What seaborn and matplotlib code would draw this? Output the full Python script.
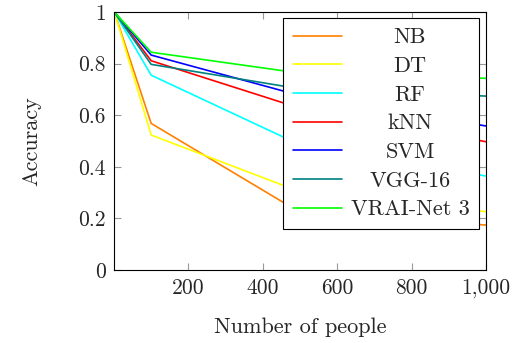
import numpy as np
import pandas as pd
import matplotlib
matplotlib.use("Agg")
import matplotlib.pyplot as plt
import seaborn as sns

# data
people = [1, 100, 500, 1000]
nb = [1.0, 0.568, 0.223, 0.174]
dt = [1.0, 0.523, 0.303, 0.226]
rf = [1.0, 0.755, 0.485, 0.364]
knn = [1.0, 0.811, 0.627, 0.497]
svm = [1.0, 0.833, 0.676, 0.558]
vgg = [1.0, 0.797, 0.702, 0.674]
vrai = [1.0, 0.844, 0.763, 0.743]

methods = ["NB", "DT", "RF", "kNN", "SVM", "VGG-16", "VRAI-Net 3"]
series = [nb, dt, rf, knn, svm, vgg, vrai]
colors = ["#ff8000", "#ffff00", "#00ffff", "#ff0000", "#0000ff", "#008080", "#00ff00"]

rows = []
for m, vals in zip(methods, series):
    for x, v in zip(people, vals):
        rows.append({"people": x, "acc": v, "method": m})
df = pd.DataFrame(rows)

sns.set_style("ticks")
plt.rcParams["font.family"] = ["cmr10", "DejaVu Serif"]
plt.rcParams["axes.formatter.use_mathtext"] = True
fs = 16

fig = plt.figure(figsize=(5.15, 3.43), dpi=100)
ax = fig.add_axes([0.222, 0.213, 0.722, 0.752])

sns.lineplot(data=df, x="people", y="acc", hue="method", hue_order=methods,
             palette=colors, linewidth=1.2, ax=ax, legend=False)

ax.set_xlim(1, 1000)
ax.set_ylim(0, 1)
ax.set_xticks([200, 400, 600, 800, 1000])
ax.set_xticklabels(["200", "400", "600", "800", "1,000"])
ax.set_yticks([0, 0.2, 0.4, 0.6, 0.8, 1])
ax.set_yticklabels(["0", "0.2", "0.4", "0.6", "0.8", "1"])
ax.tick_params(direction="in", length=5, width=0.8, color="#999999",
               top=True, right=True, labelsize=15.5, pad=6)
for s in ax.spines.values():
    s.set_color("black")
    s.set_linewidth(0.8)

ax.set_xlabel("Number of people", fontsize=fs, labelpad=14)
ax.set_ylabel("Accuracy", fontsize=fs, labelpad=27)

handles = [plt.Line2D([], [], color=c, lw=1.2) for c in colors]
leg = ax.legend(handles, methods, loc="upper right", bbox_to_anchor=(0.982, 0.977),
                borderaxespad=0, fontsize=fs, frameon=True, fancybox=False,
                edgecolor="black", framealpha=1, handlelength=2.2,
                handletextpad=0.4, labelspacing=0.41, borderpad=0.45)
leg.get_frame().set_linewidth(0.8)

# centre the legend labels like the reference
r = fig.canvas.get_renderer()
widths = [t.get_window_extent(r).width for t in leg.get_texts()]
wmax = max(widths)
for t, w in zip(leg.get_texts(), widths):
    t.set_x((wmax - w) / 2)

fig.savefig("out.png", dpi=100)
